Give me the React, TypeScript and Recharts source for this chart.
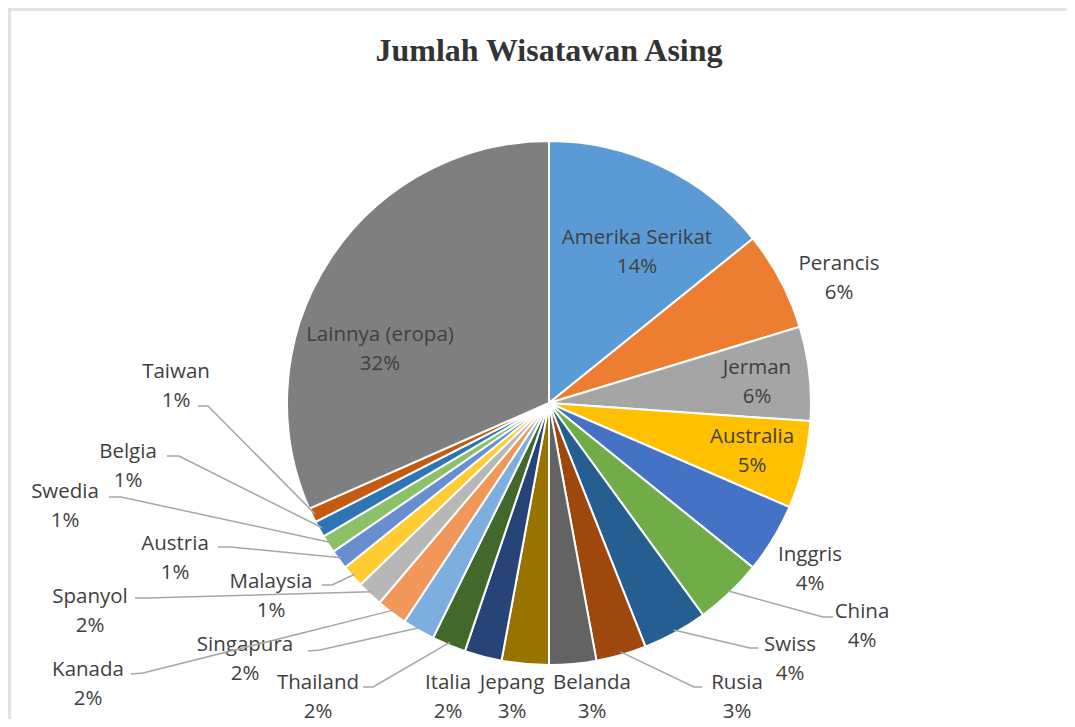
import React from "react";
import { PieChart, Pie, Cell } from "recharts";

const COUNTRIES = [
  "Amerika Serikat", "Perancis", "Jerman", "Australia", "Inggris", "China", "Swiss",
  "Rusia", "Belanda", "Jepang", "Italia", "Thailand", "Singapura", "Kanada",
  "Spanyol", "Malaysia", "Austria", "Swedia", "Belgia", "Taiwan", "Lainnya (eropa)",
];

// share of visitors (%)
const SHARES = [
  14.2, 6.1, 5.8, 5.4, 4.3, 4.2, 4.0,
  3.1, 2.9, 2.9, 2.3, 2.1, 2.0, 1.9,
  1.6, 1.4, 1.2, 1.1, 1.0, 0.9, 31.6,
];

const COLORS = [
  "#5B9BD5", "#ED7D31", "#A5A5A5", "#FFC000", "#4472C4", "#70AD47", "#255E91",
  "#9E480E", "#636363", "#997300", "#264478", "#43682B", "#7CAFDD", "#F1975A",
  "#B7B7B7", "#FFCD33", "#698ED0", "#8CC168", "#2E75B6", "#C55A11", "#7F7F7F",
];

// label spots relative to pie centre; lead = [startX, startY, elbowX, elbowY]
type Spot = { x: number; y: number; lead?: number[] };
const LABEL_SPOTS: Spot[] = [
  { x: 88, y: -167 },
  { x: 290, y: -141 },
  { x: 208, y: -37 },
  { x: 203, y: 32 },
  { x: 261, y: 150 },
  { x: 313, y: 207, lead: [284, 214, 274, 214] },
  { x: 241, y: 240, lead: [209, 245, 201, 245] },
  { x: 188, y: 278, lead: [153, 284, 145, 284] },
  { x: 43, y: 278 },
  { x: -37, y: 278 },
  { x: -101, y: 278 },
  { x: -231, y: 278, lead: [-186, 284, -176, 284] },
  { x: -304, y: 240, lead: [-241, 248, -229, 247] },
  { x: -461, y: 265, lead: [-418, 271, -406, 270] },
  { x: -459, y: 192, lead: [-414, 195, -402, 195] },
  { x: -278, y: 177, lead: [-227, 182, -217, 182] },
  { x: -374, y: 139, lead: [-331, 144, -319, 144] },
  { x: -484, y: 87, lead: [-440, 94, -428, 94] },
  { x: -421, y: 47, lead: [-382, 53, -370, 53] },
  { x: -373, y: -33, lead: [-351, 3, -341, 3] },
  { x: -169, y: -70 },
];

const data = COUNTRIES.map((name, i) => ({ name, value: SHARES[i] }));

const RADIAN = Math.PI / 180;
const FONT = "'Open Sans', 'Noto Sans', sans-serif";

function renderLabel(props: any) {
  const { cx, cy, midAngle, outerRadius, percent, index } = props;
  const spot = LABEL_SPOTS[index];
  const tx = cx + spot.x;
  const ty = cy + spot.y;
  const pct = `${Math.round(percent * 100)}%`;
  let line = null;
  if (spot.lead) {
    const r = outerRadius - 3;
    const px = cx + r * Math.cos(-midAngle * RADIAN);
    const py = cy + r * Math.sin(-midAngle * RADIAN);
    const [sx, sy, ex, ey] = spot.lead;
    line = (
      <polyline
        points={`${cx + sx},${cy + sy} ${cx + ex},${cy + ey} ${px},${py}`}
        fill="none"
        stroke="#a6a6a6"
        strokeWidth={1.5}
      />
    );
  }
  return (
    <g key={`lbl-${index}`}>
      {line}
      <text x={tx} y={ty} textAnchor="middle" dominantBaseline="central" fill="#404040" fontSize={20.5} fontFamily={FONT}>
        {COUNTRIES[index]}
      </text>
      <text x={tx} y={ty + 29} textAnchor="middle" dominantBaseline="central" fill="#404040" fontSize={20.5} fontFamily={FONT}>
        {pct}
      </text>
    </g>
  );
}

export default function App() {
  return (
    <div
      style={{
        width: 1059,
        height: 719,
        marginBottom: -8,
        boxSizing: "border-box",
        borderTop: "3px solid #e2e2e2",
        borderLeft: "3px solid #e2e2e2",
        background: "#fff",
      }}
    >
      <PieChart width={1056} height={716} margin={{ top: 0, right: 0, bottom: 0, left: 0 }}>
        <text
          x={538}
          y={50}
          textAnchor="middle"
          fontFamily="'Liberation Serif', serif"
          fontWeight="bold"
          fontSize={32}
          fill="#333"
          textLength={347}
          lengthAdjust="spacingAndGlyphs"
        >
          Jumlah Wisatawan Asing
        </text>
        <Pie
          data={data}
          dataKey="value"
          nameKey="name"
          cx={538}
          cy={392}
          outerRadius={262}
          startAngle={90}
          endAngle={-270}
          stroke="#fff"
          strokeWidth={2}
          label={renderLabel}
          labelLine={false}
          isAnimationActive={false}
        >
          {data.map((d, i) => (
            <Cell key={d.name} fill={COLORS[i]} />
          ))}
        </Pie>
      </PieChart>
    </div>
  );
}
